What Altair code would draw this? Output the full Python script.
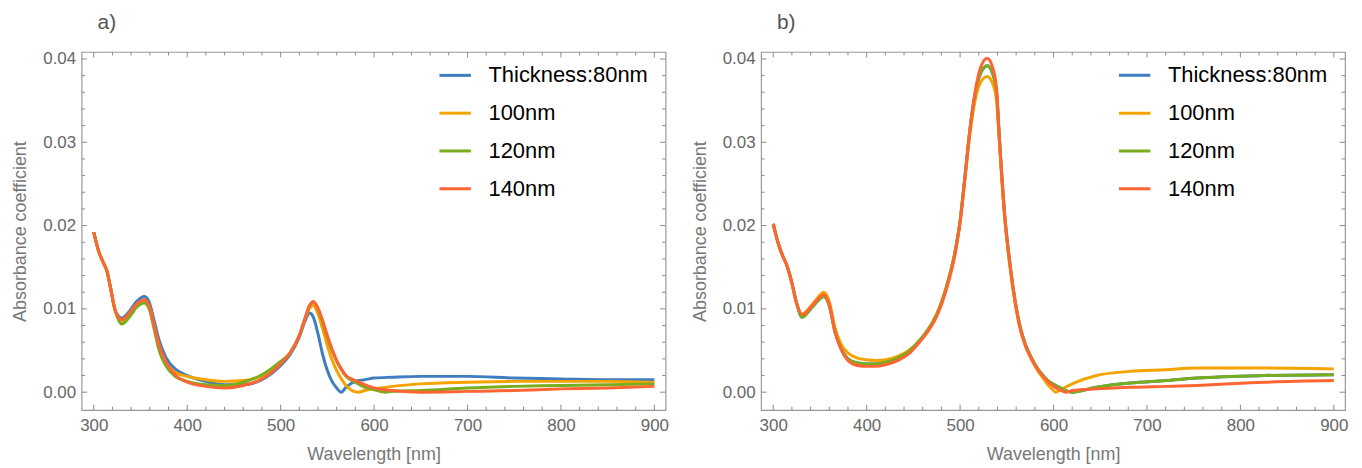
import altair as alt
import pandas as pd

SERIES = ["Thickness:80nm", "100nm", "120nm", "140nm"]
COLORS = ["#3E7DBF", "#F5A300", "#78AD1E", "#FF6532"]

# ---------------- panel a ----------------
a_wl = [300, 305, 310, 314, 318, 323, 330, 338, 346, 354, 359, 365, 370, 377, 387,
        400, 420, 440, 460, 480, 500, 510, 520, 526, 531, 535, 540, 545, 550, 555,
        560, 565, 570, 580, 590, 600, 620, 650, 700, 750, 800, 850, 900]
a_80 = [0.0192, 0.0170, 0.0156, 0.0146, 0.0125, 0.0098, 0.0089, 0.0097, 0.0109, 0.0115, 0.0109,
        0.0084, 0.0062, 0.0042, 0.0028, 0.0020, 0.0013, 0.0009, 0.0009, 0.0015, 0.0032, 0.0045,
        0.0066, 0.0085, 0.0095, 0.0090, 0.0070, 0.0045, 0.0026, 0.0013, 0.0005, 0.0000, 0.0006,
        0.0013, 0.0015, 0.0017, 0.0018, 0.0019, 0.0019, 0.0017, 0.0016, 0.0015, 0.0015]
a_wl_100 = [300, 305, 310, 314, 318, 323, 330, 338, 346, 354, 359, 365, 370, 377, 387,
            400, 420, 440, 460, 480, 500, 510, 520, 526, 531, 535, 540, 545, 550, 555,
            560, 565, 570, 575, 583, 590, 600, 620, 650, 700, 750, 800, 850, 900]
a_100 = [0.0192, 0.0170, 0.0156, 0.0146, 0.0125, 0.0098, 0.0083, 0.0092, 0.0104, 0.0109, 0.0104,
         0.0077, 0.0055, 0.0036, 0.0024, 0.0019, 0.0015, 0.0013, 0.0014, 0.0020, 0.0036, 0.0047,
         0.0068, 0.0088, 0.0101, 0.0104, 0.0094, 0.0076, 0.0056, 0.0039, 0.0026, 0.0016, 0.0008,
         0.0003, 0.0000, 0.0002, 0.0004, 0.0007, 0.0010, 0.0012, 0.0013, 0.0013, 0.0013, 0.0012]
a_wl_120 = [300, 305, 310, 314, 318, 323, 330, 338, 346, 354, 359, 365, 370, 377, 387,
            400, 420, 440, 460, 480, 500, 510, 520, 526, 531, 535, 540, 545, 550, 555,
            560, 565, 570, 580, 590, 600, 612, 620, 650, 700, 750, 800, 850, 900]
a_120 = [0.0192, 0.0170, 0.0156, 0.0146, 0.0125, 0.0098, 0.0082, 0.0090, 0.0102, 0.0107, 0.0101,
         0.0074, 0.0050, 0.0032, 0.0019, 0.0013, 0.0009, 0.0008, 0.0012, 0.0021, 0.0037, 0.0047,
         0.0068, 0.0088, 0.0104, 0.0108, 0.0100, 0.0084, 0.0066, 0.0050, 0.0037, 0.0027, 0.0019,
         0.0012, 0.0006, 0.0003, 0.0000, 0.0001, 0.0002, 0.0005, 0.0007, 0.0008, 0.0009, 0.0010]
a_wl_140 = [300, 305, 310, 314, 318, 323, 330, 338, 346, 354, 359, 365, 370, 377, 387,
            400, 420, 440, 460, 480, 500, 510, 520, 526, 531, 535, 540, 545, 550, 555,
            560, 565, 570, 580, 590, 600, 620, 650, 700, 750, 800, 850, 900]
a_140 = [0.0192, 0.0170, 0.0156, 0.0146, 0.0125, 0.0098, 0.0087, 0.0095, 0.0106, 0.0111, 0.0105,
         0.0078, 0.0056, 0.0037, 0.0021, 0.0012, 0.0007, 0.0005, 0.0008, 0.0016, 0.0034, 0.0047,
         0.0068, 0.0088, 0.0104, 0.0109, 0.0101, 0.0086, 0.0068, 0.0052, 0.0038, 0.0028, 0.0020,
         0.0014, 0.0009, 0.0005, 0.0002, 0.0000, 0.0001, 0.0002, 0.0004, 0.0005, 0.0007]

# ---------------- panel b ----------------
b_wl = [300, 305, 310, 315, 320, 325, 331, 340, 348, 354, 360, 366, 372, 380, 390, 400, 410,
        420, 433, 445, 455, 465, 475, 485, 495, 500, 505, 510, 516, 522, 529, 535, 539, 542,
        548, 552, 556, 560, 565, 570, 576, 582, 588, 594, 599]
b_100_head = [0.0202, 0.0180, 0.0164, 0.0151, 0.0131, 0.0107, 0.0094, 0.0103, 0.0114, 0.0120,
              0.0109, 0.0078, 0.0059, 0.0047, 0.0041, 0.0039, 0.0038, 0.0039, 0.0043, 0.0050,
              0.0060, 0.0074, 0.0094, 0.0125, 0.0170, 0.0205, 0.0255, 0.0305, 0.0350, 0.0372,
              0.0379, 0.0370, 0.0350, 0.0300, 0.0205, 0.0163, 0.0128, 0.0100, 0.0073, 0.0055,
              0.0040, 0.0028, 0.0018, 0.0009, 0.0003]
b_120_head = [0.0202, 0.0180, 0.0164, 0.0151, 0.0131, 0.0107, 0.0090, 0.0100, 0.0110, 0.0115,
              0.0104, 0.0073, 0.0054, 0.0040, 0.0035, 0.0034, 0.0034, 0.0036, 0.0041, 0.0049,
              0.0060, 0.0074, 0.0093, 0.0125, 0.0171, 0.0206, 0.0257, 0.0310, 0.0358, 0.0383,
              0.0392, 0.0382, 0.0360, 0.0305, 0.0208, 0.0166, 0.0131, 0.0102, 0.0075, 0.0057,
              0.0042, 0.0030, 0.0021, 0.0014, 0.0010]
b_140_head = [0.0202, 0.0180, 0.0164, 0.0151, 0.0131, 0.0107, 0.0093, 0.0102, 0.0112, 0.0117,
              0.0105, 0.0073, 0.0053, 0.0038, 0.0032, 0.0031, 0.0031, 0.0033, 0.0038, 0.0046,
              0.0058, 0.0072, 0.0091, 0.0122, 0.0168, 0.0203, 0.0254, 0.0310, 0.0360, 0.0390,
              0.0401, 0.0389, 0.0364, 0.0307, 0.0210, 0.0167, 0.0131, 0.0101, 0.0074, 0.0056,
              0.0041, 0.0029, 0.0020, 0.0013, 0.0008]
b_100_tail_wl = [602, 609, 620, 646, 682, 720, 753, 825, 900]
b_100_tail = [0.0000, 0.0004, 0.0010, 0.0020, 0.0025, 0.0027, 0.0029, 0.0029, 0.0028]
b_120_tail_wl = [606, 620, 646, 682, 720, 753, 825, 900]
b_120_tail = [0.0006, 0.0000, 0.0006, 0.0011, 0.0014, 0.0017, 0.0020, 0.0021]
b_140_tail_wl = [606, 613, 620, 646, 682, 720, 753, 825, 900]
b_140_tail = [0.0003, 0.0000, 0.0002, 0.0004, 0.0006, 0.0007, 0.0008, 0.0012, 0.0014]

# frame ticks
X_MAJOR = [300, 400, 500, 600, 700, 800, 900]
X_MINOR = [v for v in range(300, 901, 20) if v % 100 != 0]
Y_MAJOR = [0.0, 0.01, 0.02, 0.03, 0.04]
Y_MINOR = [0.002, 0.004, 0.006, 0.008, 0.012, 0.014, 0.016, 0.018, 0.022, 0.024, 0.026,
           0.028, 0.032, 0.034, 0.036, 0.038]

X_DOMAIN = [287, 912]
Y_DOMAIN = [-0.00215, 0.04084]
W, H = 587, 360
FONT = "Liberation Sans"
TICK_COLOR = "#8a8a8a"


def frame_df(series_pairs):
    rows = []
    for name, wl, vals in series_pairs:
        for i, (w, v) in enumerate(zip(wl, vals)):
            rows.append({"series": name, "wl": w, "ab": v, "order": i})
    return pd.DataFrame(rows)


df_a = frame_df([
    (SERIES[0], a_wl, a_80),
    (SERIES[1], a_wl_100, a_100),
    (SERIES[2], a_wl_120, a_120),
    (SERIES[3], a_wl_140, a_140),
])
df_b = frame_df([
    (SERIES[0], b_wl + b_120_tail_wl, b_120_head + b_120_tail),
    (SERIES[1], b_wl + b_100_tail_wl, b_100_head + b_100_tail),
    (SERIES[2], b_wl + b_120_tail_wl, b_120_head + b_120_tail),
    (SERIES[3], b_wl + b_140_tail_wl, b_140_head + b_140_tail),
])

xscale = alt.Scale(domain=X_DOMAIN, nice=False, zero=False)
yscale = alt.Scale(domain=Y_DOMAIN, nice=False, zero=False)
X_AXIS = alt.Axis(title="Wavelength [nm]", values=X_MAJOR, format="d",
                  ticks=False, domain=False, grid=False, labelPadding=7, titlePadding=13)
Y_AXIS = alt.Axis(title="Absorbance coefficient", values=Y_MAJOR, format=".2f",
                  ticks=False, domain=False, grid=False, labelPadding=6, titlePadding=13)


def tick_layers():
    xmaj = pd.DataFrame({"wl": X_MAJOR})
    xmin = pd.DataFrame({"wl": X_MINOR})
    ymaj = pd.DataFrame({"ab": Y_MAJOR})
    ymin = pd.DataFrame({"ab": Y_MINOR})
    layers = []
    for d, ln in ((xmaj, 5.5), (xmin, 3.5)):
        base = alt.Chart(d).mark_rule(color=TICK_COLOR, strokeWidth=1)
        layers.append(base.encode(x=alt.X("wl:Q", scale=xscale, axis=X_AXIS),
                                  y=alt.value(H), y2=alt.value(H - ln)))
        layers.append(base.encode(x=alt.X("wl:Q", scale=xscale, axis=X_AXIS),
                                  y=alt.value(0), y2=alt.value(ln)))
    for d, ln in ((ymaj, 5.5), (ymin, 3.5)):
        base = alt.Chart(d).mark_rule(color=TICK_COLOR, strokeWidth=1)
        layers.append(base.encode(y=alt.Y("ab:Q", scale=yscale, axis=Y_AXIS),
                                  x=alt.value(0), x2=alt.value(ln)))
        layers.append(base.encode(y=alt.Y("ab:Q", scale=yscale, axis=Y_AXIS),
                                  x=alt.value(W), x2=alt.value(W - ln)))
    return layers


def panel(df, label):
    lines = alt.Chart(df).mark_line(strokeWidth=3, interpolate="monotone").encode(
        x=alt.X("wl:Q", scale=xscale, axis=X_AXIS),
        y=alt.Y("ab:Q", scale=yscale, axis=Y_AXIS),
        color=alt.Color("series:N", sort=SERIES,
                        scale=alt.Scale(domain=SERIES, range=COLORS),
                        legend=alt.Legend(orient="none", legendX=358, legendY=6, title=None,
                                          symbolType="stroke", symbolSize=1000,
                                          symbolStrokeWidth=3, labelFontSize=22,
                                          labelColor="black", labelOffset=16,
                                          labelLimit=400, rowPadding=9, padding=0,
                                          labelFont=FONT)),
        order="order:Q",
        detail="series:N",
    )
    return alt.layer(lines, *tick_layers()).properties(
        width=W, height=H,
        title=alt.TitleParams(label, anchor="start", frame="group", dx=16, fontSize=21,
                              fontWeight="normal", color="#555555", font=FONT, offset=17),
    )


chart = alt.hconcat(panel(df_a, "a)"), panel(df_b, "b)"), spacing=21).resolve_legend(
    color="independent"
).configure_view(stroke="#999999", strokeWidth=1.2).configure_axis(
    labelFont=FONT, titleFont=FONT, labelFontSize=17, titleFontSize=18,
    labelColor="#666666", titleColor="#777777", titleFontWeight="normal"
).properties(padding={"left": 3, "top": 2, "right": 5, "bottom": 5}, background="white")

chart.save("out.html", embed_options={"renderer": "svg", "actions": False})
